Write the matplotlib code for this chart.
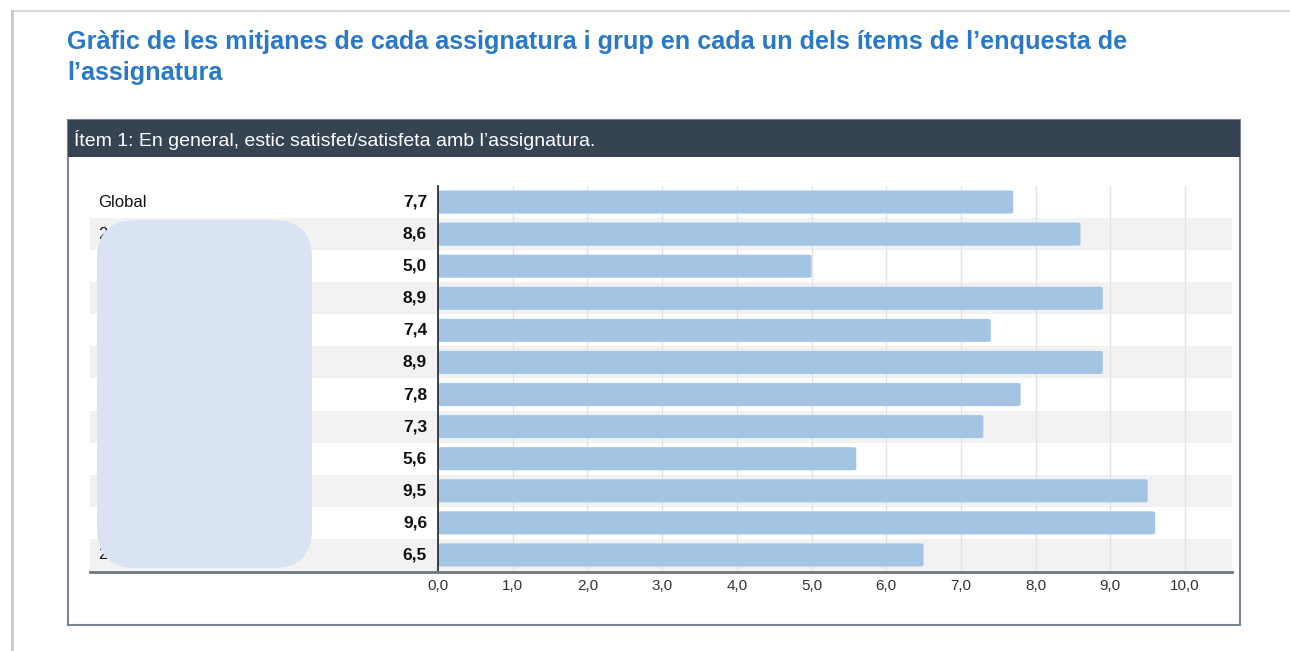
import matplotlib
matplotlib.use("Agg")
import matplotlib.pyplot as plt
from matplotlib.patches import Rectangle, FancyBboxPatch
from matplotlib.ticker import FixedLocator, FuncFormatter

plt.rcParams['font.family'] = ['Liberation Sans', 'DejaVu Sans']

title_line1 = "Gràfic de les mitjanes de cada assignatura i grup en cada un dels ítems de l’enquesta de"
title_line2 = "l’assignatura"
header_text = "Ítem 1: En general, estic satisfet/satisfeta amb l’assignatura."
categories = ["Global", "2", "2", "2", "2", "2", "2", "2", "2", "2", "2", "20"]
values = [7.7, 8.6, 5.0, 8.9, 7.4, 8.9, 7.8, 7.3, 5.6, 9.5, 9.6, 6.5]
xticks = [0, 1, 2, 3, 4, 5, 6, 7, 8, 9, 10]

W, H = 1290, 651
fig = plt.figure(figsize=(W / 100, H / 100), dpi=100)
fig.patch.set_facecolor("white")

def fx(px):
    return px / W

def fy(py):
    return 1 - py / H

# page frame
fig.add_artist(plt.Line2D([fx(12), fx(1290)], [fy(11), fy(11)], color="#dadada", lw=1.5, zorder=-2))
fig.add_artist(plt.Line2D([fx(12), fx(12)], [fy(11), fy(651)], color="#c8c8c8", lw=2, zorder=-2))

# title
fig.text(fx(67), fy(42), title_line1, color="#2a78c6", fontsize=18.2, fontweight="bold",
         va="center", ha="left")
fig.text(fx(67), fy(73), title_line2, color="#2a78c6", fontsize=18.2, fontweight="bold",
         va="center", ha="left")

# panel border
fig.add_artist(Rectangle((fx(68), fy(625)), fx(1240) - fx(68), fy(120) - fy(625),
                         transform=fig.transFigure, facecolor="white", edgecolor="#7c8594",
                         lw=1.5, zorder=-1))
# header
fig.add_artist(Rectangle((fx(68), fy(157)), fx(1240) - fx(68), fy(120) - fy(157),
                         transform=fig.transFigure, facecolor="#364352", edgecolor="#364352",
                         lw=0, zorder=-1))
fig.text(fx(74), fy(140), header_text, color="white", fontsize=14, va="center", ha="left")

# axes
ax_left, ax_right, ax_top, ax_bot = 438, 1232, 186, 571
ax = fig.add_axes([fx(ax_left), fy(ax_bot), fx(ax_right) - fx(ax_left), fy(ax_top) - fy(ax_bot)])
ax.set_facecolor("none")
n = len(categories)
ax.set_ylim(n - 0.5, -0.5)
xmax = 10 * (ax_right - ax_left) / (1185 - ax_left)
ax.set_xlim(0, xmax)

band_x0 = (90 - ax_left) / (ax_right - ax_left)
for i in range(n):
    if i % 2 == 1:
        ax.axhspan(i - 0.5, i + 0.5, xmin=band_x0, xmax=1, facecolor="#f2f2f2",
                   edgecolor="none", clip_on=False, zorder=0)

for t in xticks:
    ax.axvline(t, color="#e3e3e3", lw=1, zorder=1)

ypos = list(range(n))
bars = ax.barh(ypos, values, height=0.72, color="#a3c5e3", zorder=2)
for b in bars:
    x, y = b.get_x(), b.get_y()
    w, h = b.get_width(), b.get_height()
    b.set_visible(False)
    ax.add_patch(FancyBboxPatch((x, y), w, h, boxstyle="round,pad=0,rounding_size=0.06",
                                mutation_aspect=0.5, facecolor="#a3c5e3", edgecolor="none", zorder=2))

for sp in ["top", "right"]:
    ax.spines[sp].set_visible(False)
ax.spines["left"].set_color("#222222")
ax.spines["left"].set_linewidth(1.2)
ax.spines["bottom"].set_visible(False)
fig.add_artist(plt.Line2D([fx(90), fx(ax_right)], [fy(ax_bot + 1), fy(ax_bot + 1)],
                          color="#6e7480", lw=2))

ax.xaxis.set_major_locator(FixedLocator(xticks))
ax.xaxis.set_major_formatter(FuncFormatter(lambda v, p: f"{v:.1f}".replace(".", ",")))
ax.tick_params(axis="x", length=0, pad=6, labelsize=11, labelcolor="#333333")
ax.set_yticks([])

for i, (c, v) in enumerate(zip(categories, values)):
    ax.text(-(ax_left - 98) / (ax_right - ax_left), i, c, transform=ax.get_yaxis_transform(),
            ha="left", va="center", fontsize=12, color="#111111")
    ax.text(-11 / (ax_right - ax_left), i, f"{v:.1f}".replace(".", ","),
            transform=ax.get_yaxis_transform(), ha="right", va="center",
            fontsize=12.5, fontweight="bold", color="#111111")

# redaction overlay over labels
fig.add_artist(FancyBboxPatch((fx(97), fy(568)), fx(312) - fx(97), fy(220) - fy(568),
                              boxstyle="round,pad=0,rounding_size=0.03",
                              mutation_aspect=(W / H),
                              transform=fig.transFigure, facecolor="#d9e3f2", edgecolor="none", zorder=10))

fig.savefig("out.png", dpi=100)
